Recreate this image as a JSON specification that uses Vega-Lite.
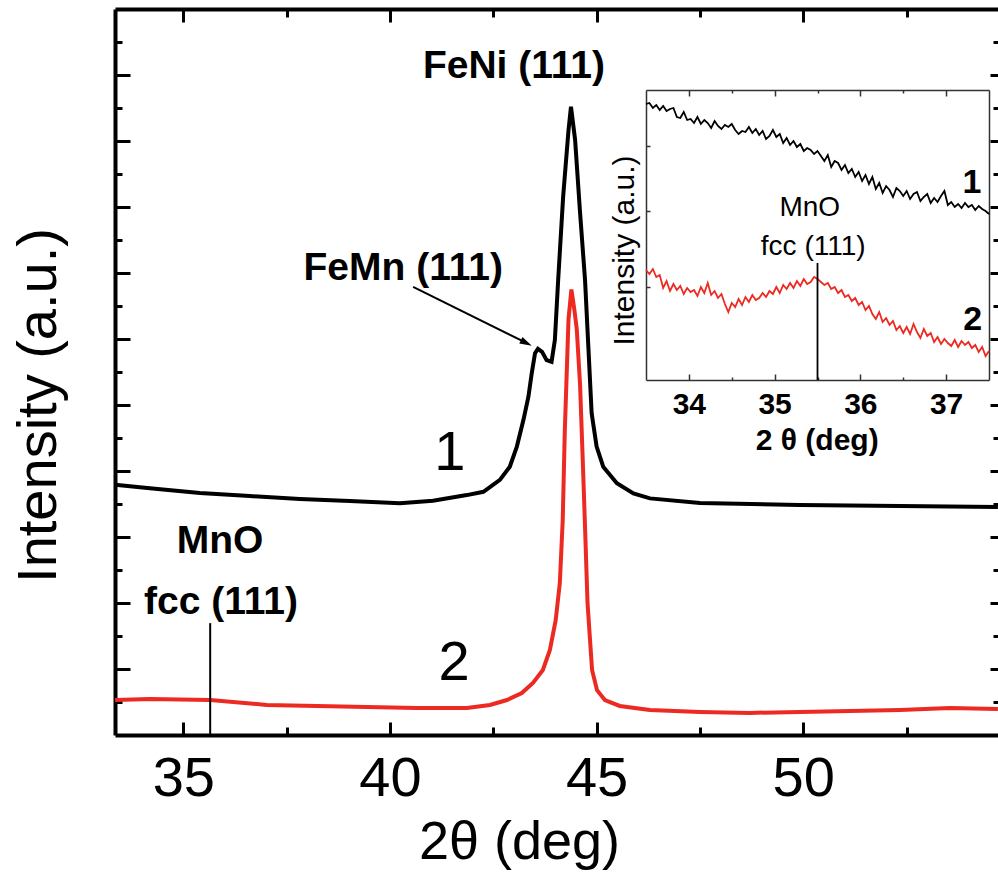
{
  "$schema": "https://vega.github.io/schema/vega-lite/v6.json",
  "width": 883,
  "height": 726,
  "autosize": {"type": "none"},
  "padding": {"left": 115, "top": 9, "right": 0, "bottom": 140},
  "background": "white",
  "config": {
    "view": {"stroke": null},
    "font": "Liberation Sans",
    "axis": {"grid": false, "domainColor": "#000", "tickColor": "#000", "labelColor": "#000", "titleColor": "#000", "labelFont": "Liberation Sans", "titleFont": "Liberation Sans"},
    "text": {"font": "Liberation Sans", "color": "#000"}
  },
  "datasets": {
    "main": [
      {"s":"1","x":33.35,"y":7.58},{"s":"1","x":34.19,"y":7.48},{"s":"1","x":35.40,"y":7.33},{"s":"1","x":36.61,"y":7.24},{"s":"1","x":37.82,"y":7.15},{"s":"1","x":39.03,"y":7.09},{"s":"1","x":40.24,"y":7.02},{"s":"1","x":41.04,"y":7.10},{"s":"1","x":41.86,"y":7.27},{"s":"1","x":42.26,"y":7.37},{"s":"1","x":42.66,"y":7.73},{"s":"1","x":42.90,"y":8.13},{"s":"1","x":43.07,"y":8.74},{"s":"1","x":43.23,"y":9.55},{"s":"1","x":43.35,"y":10.25},{"s":"1","x":43.43,"y":10.96},{"s":"1","x":43.51,"y":11.57},{"s":"1","x":43.58,"y":11.70},{"s":"1","x":43.68,"y":11.61},{"s":"1","x":43.79,"y":11.36},{"s":"1","x":43.91,"y":11.31},{"s":"1","x":43.99,"y":11.97},{"s":"1","x":44.07,"y":13.79},{"s":"1","x":44.19,"y":16.31},{"s":"1","x":44.32,"y":18.33},{"s":"1","x":44.38,"y":19.04},{"s":"1","x":44.48,"y":18.03},{"s":"1","x":44.60,"y":15.82},{"s":"1","x":44.72,"y":13.79},{"s":"1","x":44.80,"y":11.77},{"s":"1","x":44.88,"y":9.75},{"s":"1","x":45.00,"y":8.74},{"s":"1","x":45.16,"y":8.13},{"s":"1","x":45.49,"y":7.63},{"s":"1","x":45.89,"y":7.32},{"s":"1","x":46.29,"y":7.17},{"s":"1","x":47.50,"y":7.03},{"s":"1","x":49.92,"y":6.97},{"s":"1","x":52.34,"y":6.94},{"s":"1","x":54.71,"y":6.91},
      {"s":"2","x":33.35,"y":1.06},{"s":"2","x":34.19,"y":1.09},{"s":"2","x":35.65,"y":1.06},{"s":"2","x":37.02,"y":0.91},{"s":"2","x":38.23,"y":0.88},{"s":"2","x":39.44,"y":0.85},{"s":"2","x":40.65,"y":0.82},{"s":"2","x":41.86,"y":0.82},{"s":"2","x":42.42,"y":0.91},{"s":"2","x":42.83,"y":1.06},{"s":"2","x":43.19,"y":1.27},{"s":"2","x":43.46,"y":1.58},{"s":"2","x":43.70,"y":1.97},{"s":"2","x":43.87,"y":2.58},{"s":"2","x":44.01,"y":3.48},{"s":"2","x":44.11,"y":4.61},{"s":"2","x":44.18,"y":6.5},{"s":"2","x":44.23,"y":9.2},{"s":"2","x":44.32,"y":12.6},{"s":"2","x":44.39,"y":13.5},{"s":"2","x":44.46,"y":12.9},{"s":"2","x":44.52,"y":12.3},{"s":"2","x":44.60,"y":10.6},{"s":"2","x":44.66,"y":8.5},{"s":"2","x":44.72,"y":6.3},{"s":"2","x":44.78,"y":4.0},{"s":"2","x":44.89,"y":1.97},{"s":"2","x":45.01,"y":1.36},{"s":"2","x":45.20,"y":1.06},{"s":"2","x":45.56,"y":0.88},{"s":"2","x":46.29,"y":0.76},{"s":"2","x":47.50,"y":0.70},{"s":"2","x":48.71,"y":0.67},{"s":"2","x":49.92,"y":0.70},{"s":"2","x":51.13,"y":0.73},{"s":"2","x":52.34,"y":0.76},{"s":"2","x":53.55,"y":0.82},{"s":"2","x":54.71,"y":0.79}
    ],
    "inset": [
      {"s":"1","x":33.50,"y":27.6},{"s":"1","x":33.54,"y":27.7},{"s":"1","x":33.58,"y":27.2},{"s":"1","x":33.62,"y":27.5},{"s":"1","x":33.66,"y":27.0},{"s":"1","x":33.70,"y":27.4},{"s":"1","x":33.74,"y":26.9},{"s":"1","x":33.78,"y":27.1},{"s":"1","x":33.82,"y":27.2},{"s":"1","x":33.86,"y":26.3},
      {"s":"1","x":33.90,"y":26.2},{"s":"1","x":33.94,"y":26.8},{"s":"1","x":33.98,"y":26.0},{"s":"1","x":34.02,"y":26.1},{"s":"1","x":34.06,"y":25.7},{"s":"1","x":34.10,"y":26.3},{"s":"1","x":34.14,"y":25.6},{"s":"1","x":34.18,"y":26.0},{"s":"1","x":34.22,"y":25.7},{"s":"1","x":34.26,"y":25.2},
      {"s":"1","x":34.30,"y":25.9},{"s":"1","x":34.34,"y":25.4},{"s":"1","x":34.38,"y":25.1},{"s":"1","x":34.42,"y":25.5},{"s":"1","x":34.46,"y":25.3},{"s":"1","x":34.50,"y":25.6},{"s":"1","x":34.54,"y":25.0},{"s":"1","x":34.58,"y":24.6},{"s":"1","x":34.62,"y":24.9},{"s":"1","x":34.66,"y":24.8},
      {"s":"1","x":34.70,"y":25.3},{"s":"1","x":34.74,"y":24.7},{"s":"1","x":34.78,"y":25.1},{"s":"1","x":34.82,"y":24.5},{"s":"1","x":34.86,"y":24.9},{"s":"1","x":34.90,"y":24.1},{"s":"1","x":34.94,"y":24.4},{"s":"1","x":34.98,"y":25.0},{"s":"1","x":35.02,"y":24.3},{"s":"1","x":35.06,"y":24.6},
      {"s":"1","x":35.10,"y":23.7},{"s":"1","x":35.14,"y":24.2},{"s":"1","x":35.18,"y":23.5},{"s":"1","x":35.22,"y":23.9},{"s":"1","x":35.26,"y":23.3},{"s":"1","x":35.30,"y":23.6},{"s":"1","x":35.34,"y":22.9},{"s":"1","x":35.38,"y":23.2},{"s":"1","x":35.42,"y":23.0},{"s":"1","x":35.46,"y":22.6},
      {"s":"1","x":35.50,"y":22.9},{"s":"1","x":35.54,"y":22.4},{"s":"1","x":35.58,"y":21.9},{"s":"1","x":35.62,"y":22.5},{"s":"1","x":35.66,"y":21.3},{"s":"1","x":35.70,"y":21.9},{"s":"1","x":35.74,"y":21.7},{"s":"1","x":35.78,"y":21.0},{"s":"1","x":35.82,"y":21.5},{"s":"1","x":35.86,"y":20.7},
      {"s":"1","x":35.90,"y":21.1},{"s":"1","x":35.94,"y":20.3},{"s":"1","x":35.98,"y":20.8},{"s":"1","x":36.02,"y":19.9},{"s":"1","x":36.06,"y":20.5},{"s":"1","x":36.10,"y":19.6},{"s":"1","x":36.14,"y":20.3},{"s":"1","x":36.18,"y":19.1},{"s":"1","x":36.22,"y":19.7},{"s":"1","x":36.26,"y":18.7},
      {"s":"1","x":36.30,"y":19.4},{"s":"1","x":36.34,"y":19.0},{"s":"1","x":36.38,"y":18.3},{"s":"1","x":36.42,"y":19.2},{"s":"1","x":36.46,"y":18.9},{"s":"1","x":36.50,"y":18.4},{"s":"1","x":36.54,"y":18.9},{"s":"1","x":36.58,"y":18.1},{"s":"1","x":36.62,"y":18.6},{"s":"1","x":36.66,"y":18.8},
      {"s":"1","x":36.70,"y":17.9},{"s":"1","x":36.74,"y":18.3},{"s":"1","x":36.78,"y":18.6},{"s":"1","x":36.82,"y":17.7},{"s":"1","x":36.86,"y":18.2},{"s":"1","x":36.90,"y":17.8},{"s":"1","x":36.94,"y":18.4},{"s":"1","x":36.98,"y":18.9},{"s":"1","x":37.02,"y":17.5},{"s":"1","x":37.06,"y":17.8},
      {"s":"1","x":37.10,"y":17.3},{"s":"1","x":37.14,"y":17.6},{"s":"1","x":37.18,"y":17.2},{"s":"1","x":37.22,"y":17.7},{"s":"1","x":37.26,"y":17.3},{"s":"1","x":37.30,"y":17.5},{"s":"1","x":37.34,"y":17.0},{"s":"1","x":37.38,"y":17.4},{"s":"1","x":37.42,"y":17.1},{"s":"1","x":37.46,"y":16.9},{"s":"1","x":37.50,"y":16.6},
      {"s":"2","x":33.50,"y":11.0},{"s":"2","x":33.54,"y":10.6},{"s":"2","x":33.58,"y":11.1},{"s":"2","x":33.62,"y":10.3},{"s":"2","x":33.66,"y":10.5},{"s":"2","x":33.70,"y":9.2},{"s":"2","x":33.74,"y":9.9},{"s":"2","x":33.78,"y":8.9},{"s":"2","x":33.82,"y":9.6},{"s":"2","x":33.86,"y":9.0},
      {"s":"2","x":33.90,"y":9.4},{"s":"2","x":33.94,"y":8.6},{"s":"2","x":33.98,"y":9.2},{"s":"2","x":34.02,"y":8.8},{"s":"2","x":34.06,"y":9.0},{"s":"2","x":34.10,"y":8.4},{"s":"2","x":34.14,"y":9.3},{"s":"2","x":34.18,"y":8.7},{"s":"2","x":34.22,"y":9.7},{"s":"2","x":34.26,"y":8.5},
      {"s":"2","x":34.30,"y":8.9},{"s":"2","x":34.34,"y":8.2},{"s":"2","x":34.38,"y":8.6},{"s":"2","x":34.42,"y":7.6},{"s":"2","x":34.46,"y":6.8},{"s":"2","x":34.50,"y":7.7},{"s":"2","x":34.54,"y":7.3},{"s":"2","x":34.58,"y":8.1},{"s":"2","x":34.62,"y":7.5},{"s":"2","x":34.66,"y":8.3},
      {"s":"2","x":34.70,"y":7.8},{"s":"2","x":34.74,"y":8.5},{"s":"2","x":34.78,"y":8.0},{"s":"2","x":34.82,"y":8.2},{"s":"2","x":34.86,"y":8.7},{"s":"2","x":34.90,"y":8.3},{"s":"2","x":34.94,"y":8.9},{"s":"2","x":34.98,"y":8.6},{"s":"2","x":35.02,"y":9.3},{"s":"2","x":35.06,"y":8.7},
      {"s":"2","x":35.10,"y":9.5},{"s":"2","x":35.14,"y":9.1},{"s":"2","x":35.18,"y":9.7},{"s":"2","x":35.22,"y":9.2},{"s":"2","x":35.26,"y":9.9},{"s":"2","x":35.30,"y":9.4},{"s":"2","x":35.34,"y":10.1},{"s":"2","x":35.38,"y":9.6},{"s":"2","x":35.42,"y":9.8},{"s":"2","x":35.46,"y":10.3},
      {"s":"2","x":35.50,"y":10.1},{"s":"2","x":35.54,"y":9.8},{"s":"2","x":35.58,"y":9.5},{"s":"2","x":35.62,"y":9.7},{"s":"2","x":35.66,"y":9.1},{"s":"2","x":35.70,"y":9.3},{"s":"2","x":35.74,"y":8.7},{"s":"2","x":35.78,"y":9.0},{"s":"2","x":35.82,"y":8.3},{"s":"2","x":35.86,"y":8.5},
      {"s":"2","x":35.90,"y":7.9},{"s":"2","x":35.94,"y":8.2},{"s":"2","x":35.98,"y":7.5},{"s":"2","x":36.02,"y":7.8},{"s":"2","x":36.06,"y":7.0},{"s":"2","x":36.10,"y":7.4},{"s":"2","x":36.14,"y":6.6},{"s":"2","x":36.18,"y":6.1},{"s":"2","x":36.22,"y":6.8},{"s":"2","x":36.26,"y":5.8},
      {"s":"2","x":36.30,"y":6.2},{"s":"2","x":36.34,"y":5.5},{"s":"2","x":36.38,"y":5.9},{"s":"2","x":36.42,"y":5.0},{"s":"2","x":36.46,"y":5.4},{"s":"2","x":36.50,"y":4.7},{"s":"2","x":36.54,"y":5.3},{"s":"2","x":36.58,"y":4.6},{"s":"2","x":36.62,"y":5.6},{"s":"2","x":36.66,"y":4.8},
      {"s":"2","x":36.70,"y":4.2},{"s":"2","x":36.74,"y":5.1},{"s":"2","x":36.78,"y":4.4},{"s":"2","x":36.82,"y":4.7},{"s":"2","x":36.86,"y":3.8},{"s":"2","x":36.90,"y":4.3},{"s":"2","x":36.94,"y":3.6},{"s":"2","x":36.98,"y":4.1},{"s":"2","x":37.02,"y":3.7},{"s":"2","x":37.06,"y":3.4},
      {"s":"2","x":37.10,"y":4.0},{"s":"2","x":37.14,"y":3.3},{"s":"2","x":37.18,"y":3.9},{"s":"2","x":37.22,"y":3.5},{"s":"2","x":37.26,"y":3.8},{"s":"2","x":37.30,"y":3.2},{"s":"2","x":37.34,"y":3.5},{"s":"2","x":37.38,"y":2.8},{"s":"2","x":37.42,"y":3.3},{"s":"2","x":37.46,"y":2.4},{"s":"2","x":37.50,"y":2.9}
    ],
    "mainBold": [
      {"label":"FeNi (111)","x":43.00,"y":20.27},
      {"label":"FeMn (111)","x":40.32,"y":14.15},
      {"label":"MnO","x":35.89,"y":5.88},
      {"label":"fcc (111)","x":35.91,"y":4.03}
    ],
    "mainNums": [
      {"label":"1","x":41.45,"y":8.55},
      {"label":"2","x":41.55,"y":2.18}
    ],
    "insetNums": [
      {"label":"1","x":37.30,"y":19.7},
      {"label":"2","x":37.31,"y":6.0}
    ],
    "insetText": [
      {"label":"MnO","x":35.41,"y":17.2},
      {"label":"fcc (111)","x":35.45,"y":13.3}
    ]
  },
  "layer": [
    {
      "layer": [
        {
          "data": {"name": "main"},
          "mark": {"type": "line", "strokeWidth": 4},
          "encoding": {
            "x": {"field": "x", "type": "quantitative",
              "scale": {"domain": [33.347, 54.712], "nice": false, "zero": false},
              "axis": {"orient": "bottom", "values": [35,40,45,50], "format": "d",
                "tickSize": -13, "tickWidth": 3, "domainWidth": 4, "labelFontSize": 56, "labelPadding": 29,
                "labelFlush": false, "labelOverlap": false,
                "title": "2θ (deg)", "titleFontSize": 54, "titleFontWeight": "normal",
                "titleX": 404, "titleY": 123, "titleBaseline": "alphabetic", "titleAlign": "center"}},
            "y": {"field": "y", "type": "quantitative",
              "scale": {"domain": [0, 22], "nice": false, "zero": false},
              "axis": {"orient": "left", "values": [2,4,6,8,10,12,14,16,18,20],
                "labels": false, "tickSize": -15, "tickWidth": 3, "domainWidth": 4,
                "title": "Intensity (a.u.)", "titleFontSize": 56, "titleFontWeight": "normal",
                "titleAngle": 270, "titleX": -60, "titleY": 396, "titleBaseline": "alphabetic", "titleAlign": "center"}},
            "color": {"field": "s", "type": "nominal", "scale": {"domain": ["1","2"], "range": ["#000000", "#ec2a22"]}, "legend": null}
          }
        },
        {
          "data": {"values": [{"x": 35.65, "y": 0, "y2": 3.39}]},
          "mark": {"type": "rule", "strokeWidth": 2, "color": "#000"},
          "encoding": {
            "x": {"field": "x", "type": "quantitative"},
            "y": {"field": "y", "type": "quantitative"},
            "y2": {"field": "y2"}
          }
        },
        {
          "data": {"values": [{"x": 40.56, "y": 13.58, "x2": 43.30, "y2": 11.88}]},
          "mark": {"type": "rule", "strokeWidth": 2, "color": "#000"},
          "encoding": {
            "x": {"field": "x", "type": "quantitative"},
            "y": {"field": "y", "type": "quantitative"},
            "x2": {"field": "x2"},
            "y2": {"field": "y2"}
          }
        },
        {
          "data": {"values": [{"x": 43.30, "y": 11.88}]},
          "mark": {"type": "point", "shape": "M -1 -0.6 L 1 0 L -1 0.6 Z", "filled": true, "size": 150, "angle": 26.4, "color": "#000", "opacity": 1},
          "encoding": {
            "x": {"field": "x", "type": "quantitative"},
            "y": {"field": "y", "type": "quantitative"}
          }
        },
        {
          "data": {"name": "mainBold"},
          "mark": {"type": "text", "fontSize": 39, "fontWeight": "bold", "align": "center", "baseline": "middle"},
          "encoding": {
            "x": {"field": "x", "type": "quantitative"},
            "y": {"field": "y", "type": "quantitative"},
            "text": {"field": "label"}
          }
        },
        {
          "data": {"name": "mainNums"},
          "mark": {"type": "text", "fontSize": 56, "fontWeight": "normal", "align": "center", "baseline": "middle"},
          "encoding": {
            "x": {"field": "x", "type": "quantitative"},
            "y": {"field": "y", "type": "quantitative"},
            "text": {"field": "label"}
          }
        }
      ]
    },
    {
      "data": {"name": "main"},
      "mark": {"type": "point", "opacity": 0},
      "encoding": {
        "x": {"field": "x", "type": "quantitative",
          "scale": {"domain": [33.347, 54.712], "nice": false, "zero": false},
          "axis": {"orient": "top", "values": [35,40,45,50], "labels": false,
            "tickSize": -13, "tickWidth": 3, "domainWidth": 4, "title": null}},
        "y": {"field": "y", "type": "quantitative",
          "scale": {"domain": [0, 22], "nice": false, "zero": false},
          "axis": {"orient": "right", "values": [2,4,6,8,10,12,14,16,18,20], "labels": false,
            "tickSize": -8, "tickWidth": 3, "domain": false, "title": null}}
      }
    },
    {
      "data": {"name": "main"},
      "mark": {"type": "point", "opacity": 0},
      "encoding": {
        "x": {"field": "x", "type": "quantitative",
          "scale": {"domain": [33.347, 54.712], "nice": false, "zero": false},
          "axis": {"orient": "bottom", "values": [37.5,42.5,47.5,52.5], "labels": false,
            "tickSize": -8, "tickWidth": 3, "domain": false, "title": null}},
        "y": {"field": "y", "type": "quantitative",
          "scale": {"domain": [0, 22], "nice": false, "zero": false},
          "axis": {"orient": "left", "values": [1,3,5,7,9,11,13,15,17,19,21], "labels": false,
            "tickSize": -7, "tickWidth": 3, "domain": false, "title": null}}
      }
    },
    {
      "data": {"name": "main"},
      "mark": {"type": "point", "opacity": 0},
      "encoding": {
        "x": {"field": "x", "type": "quantitative",
          "scale": {"domain": [33.347, 54.712], "nice": false, "zero": false},
          "axis": {"orient": "top", "values": [37.5,42.5,47.5,52.5], "labels": false,
            "tickSize": -8, "tickWidth": 3, "domain": false, "title": null}},
        "y": {"field": "y", "type": "quantitative",
          "scale": {"domain": [0, 22], "nice": false, "zero": false},
          "axis": {"orient": "right", "values": [1,3,5,7,9,11,13,15,17,19,21], "labels": false,
            "tickSize": -5, "tickWidth": 3, "domain": false, "title": null}}
      }
    },
    {
      "layer": [
        {
          "data": {"name": "inset"},
          "mark": {"type": "line", "strokeWidth": 1.8},
          "encoding": {
            "x": {"field": "x", "type": "quantitative",
              "scale": {"domain": [33.5, 37.5], "range": [531, 874], "nice": false, "zero": false},
              "axis": {"orient": "bottom", "offset": -355, "values": [34,35,36,37], "format": "d",
                "tickSize": -6, "tickWidth": 1.5, "domainWidth": 1.5, "domainColor": "#333", "tickColor": "#333",
                "labelFontSize": 30, "labelFontWeight": "bold", "labelPadding": 15,
                "labelFlush": false, "labelOverlap": false,
                "title": "2 θ (deg)", "titleFontSize": 30, "titleFontWeight": "bold",
                "titleX": 701.7, "titleY": 69, "titleBaseline": "alphabetic", "titleAlign": "center"}},
            "y": {"field": "y", "type": "quantitative",
              "scale": {"domain": [0, 29], "range": [371, 81], "nice": false, "zero": false},
              "axis": {"orient": "left", "offset": -531, "values": [9.3, 16.9, 23.4], "labels": false,
                "tickSize": -4, "tickWidth": 1.5, "domainWidth": 1.5, "domainColor": "#333", "tickColor": "#333",
                "title": "Intensity (a.u.)", "titleFontSize": 30, "titleFontWeight": "normal",
                "titleAngle": 270, "titleX": -13, "titleY": 241, "titleBaseline": "alphabetic", "titleAlign": "center"}},
            "color": {"field": "s", "type": "nominal", "scale": {"domain": ["1","2"], "range": ["#000000", "#ec2a22"]}, "legend": null}
          }
        },
        {
          "data": {"values": [{"x": 35.5, "y": 0, "y2": 11.7}]},
          "mark": {"type": "rule", "strokeWidth": 1.8, "color": "#000"},
          "encoding": {
            "x": {"field": "x", "type": "quantitative"},
            "y": {"field": "y", "type": "quantitative"},
            "y2": {"field": "y2"}
          }
        },
        {
          "data": {"name": "insetText"},
          "mark": {"type": "text", "fontSize": 28, "fontWeight": "normal", "align": "center", "baseline": "middle"},
          "encoding": {
            "x": {"field": "x", "type": "quantitative"},
            "y": {"field": "y", "type": "quantitative"},
            "text": {"field": "label"}
          }
        },
        {
          "data": {"name": "insetNums"},
          "mark": {"type": "text", "fontSize": 34, "fontWeight": "bold", "align": "center", "baseline": "middle"},
          "encoding": {
            "x": {"field": "x", "type": "quantitative"},
            "y": {"field": "y", "type": "quantitative"},
            "text": {"field": "label"}
          }
        }
      ]
    },
    {
      "data": {"name": "inset"},
      "mark": {"type": "point", "opacity": 0},
      "encoding": {
        "x": {"field": "x", "type": "quantitative",
          "scale": {"domain": [33.5, 37.5], "range": [531, 874], "nice": false, "zero": false},
          "axis": {"orient": "top", "offset": -81, "values": [34,35,36,37], "labels": false,
            "tickSize": -6, "tickWidth": 1.5, "domainWidth": 1.5, "domainColor": "#333", "tickColor": "#333", "title": null}},
        "y": {"field": "y", "type": "quantitative",
          "scale": {"domain": [0, 29], "range": [371, 81], "nice": false, "zero": false},
          "axis": {"orient": "right", "offset": -9, "values": [], "labels": false, "ticks": false,
            "domainWidth": 1.5, "domainColor": "#333", "title": null}}
      }
    },
    {
      "data": {"name": "inset"},
      "mark": {"type": "point", "opacity": 0},
      "encoding": {
        "x": {"field": "x", "type": "quantitative",
          "scale": {"domain": [33.5, 37.5], "range": [531, 874], "nice": false, "zero": false},
          "axis": {"orient": "bottom", "offset": -355, "values": [34.5,35.5,36.5], "labels": false,
            "tickSize": -3, "tickWidth": 1.5, "domain": false, "tickColor": "#333", "title": null}},
        "y": {"field": "y", "type": "quantitative",
          "scale": {"domain": [0, 29], "range": [371, 81], "nice": false, "zero": false},
          "axis": null}
      }
    },
    {
      "data": {"name": "inset"},
      "mark": {"type": "point", "opacity": 0},
      "encoding": {
        "x": {"field": "x", "type": "quantitative",
          "scale": {"domain": [33.5, 37.5], "range": [531, 874], "nice": false, "zero": false},
          "axis": {"orient": "top", "offset": -81, "values": [34.5,35.5,36.5], "labels": false,
            "tickSize": -3, "tickWidth": 1.5, "domain": false, "tickColor": "#333", "title": null}},
        "y": {"field": "y", "type": "quantitative",
          "scale": {"domain": [0, 29], "range": [371, 81], "nice": false, "zero": false},
          "axis": null}
      }
    }
  ],
  "resolve": {
    "scale": {"x": "independent", "y": "independent"},
    "axis": {"x": "independent", "y": "independent"}
  }
}
